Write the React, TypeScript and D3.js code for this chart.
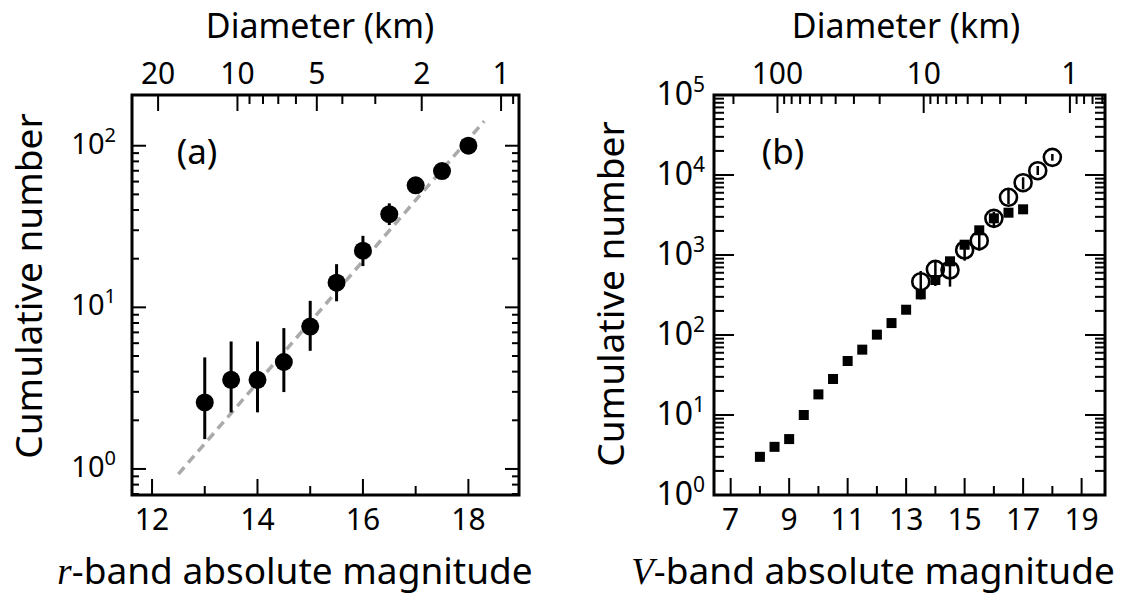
import React from "react";
import * as d3 from "d3";

// ---------- data ----------
// Panel (a): r-band
const aH = [13, 13.5, 14, 14.5, 15, 15.5, 16, 16.5, 17, 17.5, 18];
const aN = [2.58, 3.56, 3.56, 4.59, 7.6, 14.2, 22.4, 37.7, 56.9, 69.7, 100];
const aLo = [1.53, 2.24, 2.24, 2.99, 5.38, 10.9, 18.0, 32.3, 52, 64, 92];
const aHi = [4.9, 6.15, 6.15, 7.44, 10.97, 18.5, 27.7, 44, 62, 76, 108];
const fitH = [12.5, 18.3];
const fitN = [0.93, 142];

// Panel (b): V-band
const sqH = [8, 8.5, 9, 9.5, 10, 10.5, 11, 11.5, 12, 12.5, 13, 13.5, 14, 14.5, 15, 15.5, 16, 16.5, 17];
const sqN = [3, 4, 5, 10, 18.1, 28.2, 47.3, 65.6, 101, 141, 207, 322, 487, 834, 1345, 2035, 2873, 3380, 3724];
const ciH = [13.5, 14, 14.5, 15, 15.5, 16, 16.5, 17, 17.5, 18];
const ciN = [464, 662, 649, 1155, 1510, 2873, 5260, 8017, 11320, 16630];
const ciLo = [279, 410, 402, 849, 1132, 2305, 4340, 6620, 10000, 15100];
const ciHi = [631, 866, 935, 1540, 2154, 3467, 6620, 9360, 12960, 18300];

// ticks
const aXMajor = [12, 14, 16, 18];
const aXMinor = [13, 15, 17];
const aYMajor = [1, 10, 100];
const aYExp = ["0", "1", "2"];
const aYMinor = [0.7, 0.8, 0.9, 2, 3, 4, 5, 6, 7, 8, 9, 20, 30, 40, 50, 60, 70, 80, 90];
const aDMajor = [20, 10, 5, 2, 1];
const aDMinor = [9, 8, 7, 6, 4, 3, 0.9];

const bXMajor = [7, 9, 11, 13, 15, 17, 19];
const bXMinor = [8, 10, 12, 14, 16, 18];
const bYMajor = [1, 10, 100, 1000, 10000, 100000];
const bYExp = ["0", "1", "2", "3", "4", "5"];
const bYMinorMant = [2, 3, 4, 5, 6, 7, 8, 9];
const bYMinorDec = [1, 10, 100, 1000, 10000];
const bDMajor = [100, 10, 1];
const bDMinor = [200, 90, 80, 70, 60, 50, 40, 30, 20, 9, 8, 7, 6, 5, 4, 3, 2, 0.9, 0.8, 0.7, 0.6];

const FONT = "'Noto Sans', 'Open Sans', sans-serif";
const SERIF = "'Liberation Serif', 'DejaVu Serif', serif";

function Frame({ x0, x1, y0, y1 }: any) {
  return <rect x={x0} y={y0} width={x1 - x0} height={y1 - y0} fill="none" stroke="#000" strokeWidth={3} />;
}

export default function App() {
  const ax = d3.scaleLinear().domain([11.62, 18.96]).range([132, 519]);
  const ay = d3.scaleLog().domain([0.69, 206]).range([495, 95]);
  const aH0 = 18.62;
  const aDx = (D: number) => ax(aH0 - 5 * Math.log10(D));

  const bx = d3.scaleLinear().domain([6.43, 19.8]).range([714, 1105]);
  const by = d3.scaleLog().domain([1, 1e5]).range([495, 95]);
  const bH0 = 18.6;
  const bDx = (D: number) => bx(bH0 - 5 * Math.log10(D));
  const bYMinor = bYMinorDec.flatMap((d) => bYMinorMant.map((m) => m * d));

  const fitLine = d3
    .line<number>()
    .x((_, i) => ax(fitH[i]))
    .y((_, i) => ay(fitN[i]));

  const tick = (key: string, x1: number, y1: number, x2: number, y2: number) => (
    <line key={key} x1={x1} y1={y1} x2={x2} y2={y2} stroke="#000" strokeWidth={2} />
  );

  const top = 95, bot = 495;

  return (
    <svg width={1125} height={595} style={{ position: "absolute", left: 0, top: 0, background: "#fff" }} fontFamily={FONT}>
      <rect x={0} y={0} width={1125} height={595} fill="#fff" />

      {/* ================= Panel (a) ================= */}
      <g>
        {aXMajor.map((v) => tick("axb" + v, ax(v), bot, ax(v), bot - 16))}
        {aXMinor.map((v) => tick("axbm" + v, ax(v), bot, ax(v), bot - 9))}
        {aDMajor.map((d) => tick("adt" + d, aDx(d), top, aDx(d), top + 16))}
        {aDMinor.map((d) => tick("adtm" + d, aDx(d), top, aDx(d), top + 9))}
        {aYMajor.map((v) => (
          <g key={"ay" + v}>
            {tick("l", 132, ay(v), 146, ay(v))}
            {tick("r", 519, ay(v), 505, ay(v))}
          </g>
        ))}
        {aYMinor.map((v) => (
          <g key={"aym" + v}>
            {tick("l", 132, ay(v), 139, ay(v))}
            {tick("r", 519, ay(v), 512, ay(v))}
          </g>
        ))}

        <path d={fitLine(fitH) || ""} fill="none" stroke="#aaa" strokeWidth={3.5} strokeDasharray="9 6" />

        {aH.map((h, i) => (
          <line key={"ae" + i} x1={ax(h)} x2={ax(h)} y1={ay(aLo[i])} y2={ay(aHi[i])} stroke="#000" strokeWidth={3} />
        ))}
        {aH.map((h, i) => (
          <circle key={"ap" + i} cx={ax(h)} cy={ay(aN[i])} r={9} fill="#000" />
        ))}

        <Frame x0={132} x1={519} y0={top} y1={bot} />

        {aXMajor.map((v) => (
          <text key={"axl" + v} x={ax(v)} y={530} textAnchor="middle" fontSize={30}>
            {v}
          </text>
        ))}
        {aDMajor.map((d) => (
          <text key={"adl" + d} x={aDx(d)} y={84} textAnchor="middle" fontSize={30}>
            {d}
          </text>
        ))}
        {aYMajor.map((v, i) => (
          <text key={"ayl" + v} x={116} y={ay(v) + 8} textAnchor="end" fontSize={29}>
            10<tspan dy={-12} fontSize={20}>{aYExp[i]}</tspan>
          </text>
        ))}
        <text x={197} y={164} textAnchor="middle" fontSize={35}>(a)</text>
        <text x={320} y={38} textAnchor="middle" fontSize={34}>Diameter (km)</text>
        <text transform="translate(42,286) rotate(-90)" textAnchor="middle" fontSize={37}>Cumulative number</text>
        <text x={295} y={584} textAnchor="middle" fontSize={37}>
          <tspan fontFamily={SERIF} fontStyle="italic">r</tspan>-band absolute magnitude
        </text>
      </g>

      {/* ================= Panel (b) ================= */}
      <g>
        {bXMajor.map((v) => tick("bxb" + v, bx(v), bot, bx(v), bot - 17))}
        {bXMinor.map((v) => tick("bxbm" + v, bx(v), bot, bx(v), bot - 9))}
        {bDMajor.map((d) => tick("bdt" + d, bDx(d), top, bDx(d), top + 18))}
        {bDMinor.map((d) => tick("bdtm" + d, bDx(d), top, bDx(d), top + 9))}
        {bYMajor.map((v) => (
          <g key={"by" + v}>
            {tick("l", 714, by(v), 734, by(v))}
            {tick("r", 1105, by(v), 1085, by(v))}
          </g>
        ))}
        {bYMinor.map((v) => (
          <g key={"bym" + v}>
            {tick("l", 714, by(v), 724, by(v))}
            {tick("r", 1105, by(v), 1095, by(v))}
          </g>
        ))}

        {ciH.map((h, i) => (
          <line key={"be" + i} x1={bx(h)} x2={bx(h)} y1={by(ciLo[i])} y2={by(ciHi[i])} stroke="#000" strokeWidth={2.5} />
        ))}
        {ciH.map((h, i) => (
          <circle key={"bc" + i} cx={bx(h)} cy={by(ciN[i])} r={8.5} fill="none" stroke="#000" strokeWidth={2.6} />
        ))}
        {sqH.map((h, i) => (
          <rect key={"bs" + i} x={bx(h) - 5} y={by(sqN[i]) - 5} width={10} height={10} fill="#000" />
        ))}

        <Frame x0={714} x1={1105} y0={top} y1={bot} />

        {bXMajor.map((v) => (
          <text key={"bxl" + v} x={bx(v)} y={530} textAnchor="middle" fontSize={30}>
            {v}
          </text>
        ))}
        {bDMajor.map((d) => (
          <text key={"bdl" + d} x={bDx(d)} y={84} textAnchor="middle" fontSize={30}>
            {d}
          </text>
        ))}
        {bYMajor.map((v, i) => (
          <text key={"byl" + v} x={705} y={by(v) + 10} textAnchor="end" fontSize={32}>
            10<tspan dy={-13} fontSize={21}>{bYExp[i]}</tspan>
          </text>
        ))}
        <text x={783} y={164} textAnchor="middle" fontSize={35}>(b)</text>
        <text x={906} y={38} textAnchor="middle" fontSize={34}>Diameter (km)</text>
        <text transform="translate(624,294) rotate(-90)" textAnchor="middle" fontSize={37}>Cumulative number</text>
        <text x={873} y={584} textAnchor="middle" fontSize={37}>
          <tspan fontFamily={SERIF} fontStyle="italic">V</tspan>-band absolute magnitude
        </text>
      </g>
    </svg>
  );
}
